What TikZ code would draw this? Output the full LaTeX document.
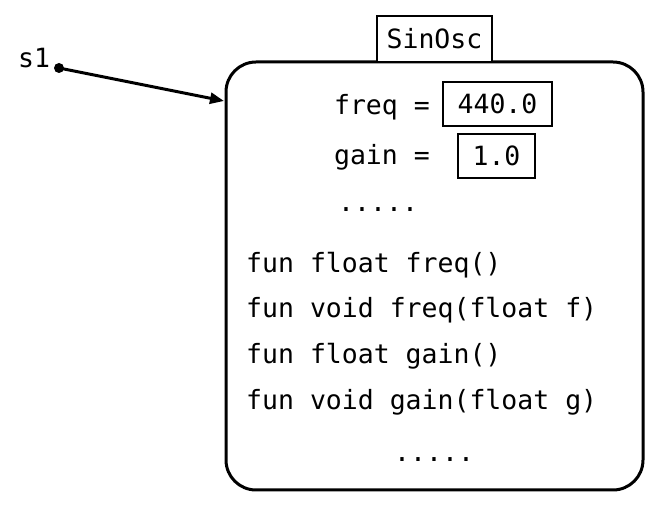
\documentclass[tikz,border=0pt]{standalone}
\usepackage{fontspec}
\setmonofont{DejaVu Sans Mono}
\usetikzlibrary{arrows.meta}

\begin{document}
\begin{tikzpicture}[
      x=1pt, y=-1pt,
      every node/.style={font=\ttfamily\fontsize{26.5}{30}\selectfont, inner sep=0pt},
      valbox/.style={draw, line width=2.5pt, minimum height=44pt, fill=white},
      member/.style={anchor=base west},
      fieldname/.style={anchor=base east},
    ]
      \useasboundingbox (0,0) rectangle (670,510);
      \node[draw, line width=3pt, rounded corners=30pt,
        minimum width=417pt, minimum height=428pt] (obj) at (434.5,276) {};
      \node[valbox, minimum width=115pt, minimum height=46pt] (cls) at (434.5,39) {SinOsc};

      % reference s1
      \node[anchor=base west] (s1) at (18,68) {s1};
      \node[circle, fill, minimum size=10pt] (ref) at (59,68) {};
      \coordinate (tip) at (224,101);
      \draw[line width=3pt, -{Triangle[length=14pt,width=11pt]}] (ref.center) -- (tip);

      % fields
      \node[fieldname] (freqlbl) at (430,115) {freq =};
      \node[valbox, minimum width=109pt] (freqval) at (497.5,104) {440.0};
      \node[fieldname] (gainlbl) at (430,165) {gain =};
      \node[valbox, minimum width=77pt] (gainval) at (496.5,156) {1.0};
      \node[member] (moref) at (338,212) {.....};

      % methods
      \node[member] (getfreq) at (246,273) {fun float freq()};
      \node[member] (setfreq) at (246,318) {fun void freq(float f)};
      \node[member] (getgain) at (246,364) {fun float gain()};
      \node[member] (setgain) at (246,410) {fun void gain(float g)};
      \node[member] (morem) at (394,462) {.....};
    \end{tikzpicture}
\end{document}
